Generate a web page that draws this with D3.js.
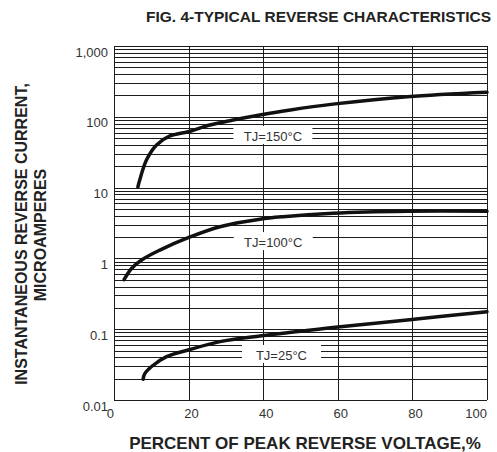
<!DOCTYPE html>
<html>
<head>
<meta charset="utf-8">
<script src="https://cdn.jsdelivr.net/npm/d3@7"></script>
<style>
  body { margin: 0; background: #fff; }
  svg { display: block; font-family: "Liberation Sans", Arial, sans-serif; }
</style>
</head>
<body>
<div id="chart"></div>
<script>
// values
const xTicks = [0, 20, 40, 60, 80, 100];
const yTicks = [0.01, 0.1, 1, 10, 100, 1000];
const yTickLabels = ['0.01', '0.1', '1', '10', '100', '1,000'];

const pct150 = [6.4, 6.9, 8.7, 11.4, 15, 19.9, 25.7, 31.9, 39.1, 47.3, 58.7, 78.6, 100];
const cur150 = [10.2, 12.8, 24.5, 40, 53.6, 61.6, 76.6, 90, 106, 125, 151, 192, 222];

const pct100 = [2.7, 4.7, 7.4, 12.3, 19.9, 28.4, 39.1, 45.3, 58.7, 78.6, 100];
const cur100 = [0.5, 0.72, 0.95, 1.31, 1.96, 2.8, 3.57, 3.88, 4.34, 4.63, 4.63];

const pct25 = [7.8, 8.2, 10, 14.1, 19.9, 28.4, 39.1, 45.3, 58.7, 78.6, 100];
const cur25 = [0.0196, 0.0233, 0.0295, 0.0409, 0.0508, 0.0667, 0.0802, 0.0875, 0.106, 0.135, 0.177];

const curveNames = ['TJ=150°C', 'TJ=100°C', 'TJ=25°C'];
const labelPct = [42.6, 42.7, 44.9];
const labelCur = [53.6, 1.7, 0.0433];

class ReverseChart {

  constructor(_config) {
    this.config = {
      parentElement: _config.parentElement,
      containerWidth: _config.containerWidth || 497,
      containerHeight: _config.containerHeight || 452,
      margin: _config.margin || {top: 46, right: 10, bottom: 52, left: 114}
    };
    this.initVis();
  }

  initVis() {
    let vis = this;
    const m = vis.config.margin;

    vis.width = vis.config.containerWidth - m.left - m.right;
    vis.height = vis.config.containerHeight - m.top - m.bottom;

    vis.svg = d3.select(vis.config.parentElement).append('svg')
      .attr('width', vis.config.containerWidth)
      .attr('height', vis.config.containerHeight);

    vis.chart = vis.svg.append('g')
      .attr('transform', `translate(${m.left},${m.top})`);

    vis.x = d3.scaleLinear().domain([0, 100]).range([0, vis.width]);
    vis.y = d3.scaleLog().domain([0.01, 1000]).range([vis.height, 0]);

    vis.updateVis();
  }

  updateVis() {
    let vis = this;
    const gridColor = '#1c1c1c';

    // horizontal grid, 1..9 in every decade
    vis.chart.append('g').selectAll('line')
      .data(vis.y.ticks())
      .join('line')
        .attr('x1', 0).attr('x2', vis.width)
        .attr('y1', d => Math.round(vis.y(d)) + 0.5)
        .attr('y2', d => Math.round(vis.y(d)) + 0.5)
        .attr('stroke', gridColor)
        .attr('stroke-width', 1);

    // vertical grid
    vis.chart.append('g').selectAll('line')
      .data(xTicks)
      .join('line')
        .attr('x1', d => Math.round(vis.x(d)) + 0.5)
        .attr('x2', d => Math.round(vis.x(d)) + 0.5)
        .attr('y1', 0).attr('y2', vis.height)
        .attr('stroke', gridColor)
        .attr('stroke-width', 1);

    // y tick labels
    vis.chart.append('g').selectAll('text')
      .data(yTicks)
      .join('text')
        .attr('x', -6)
        .attr('y', d => vis.y(d) + 10.5)
        .attr('text-anchor', 'end')
        .attr('font-size', 13)
        .attr('fill', '#333')
        .text((d, i) => yTickLabels[i]);

    // x tick labels
    vis.chart.append('g').selectAll('text')
      .data(xTicks)
      .join('text')
        .attr('x', (d, i) => (i === 0 || i === xTicks.length - 1) ? vis.x(d) : vis.x(d) + 3)
        .attr('y', vis.height + 18)
        .attr('text-anchor', (d, i) => (i === 0 || i === xTicks.length - 1) ? 'end' : 'middle')
        .attr('font-size', 13)
        .attr('fill', '#333')
        .text(d => d);

    // label boxes blank out the grid behind the curve names
    const labels = curveNames.map((name, i) => ({name: name, x: labelPct[i], y: labelCur[i]}));
    vis.chart.append('g').selectAll('rect')
      .data(labels)
      .join('rect')
        .attr('x', d => vis.x(d.x) - 39.5)
        .attr('y', d => vis.y(d.y) - 10)
        .attr('width', 79)
        .attr('height', 18)
        .attr('fill', '#fff');

    vis.chart.append('g').selectAll('text')
      .data(labels)
      .join('text')
        .attr('x', d => vis.x(d.x))
        .attr('y', d => vis.y(d.y) + 5)
        .attr('text-anchor', 'middle')
        .attr('font-size', 13)
        .attr('fill', '#333')
        .text(d => d.name);

    // curves
    const series = [
      d3.zip(pct150, cur150),
      d3.zip(pct100, cur100),
      d3.zip(pct25, cur25)
    ];
    const line = d3.line()
      .x(d => vis.x(d[0]))
      .y(d => vis.y(d[1]))
      .curve(d3.curveCatmullRom.alpha(0.5));

    vis.chart.append('g').selectAll('path')
      .data(series)
      .join('path')
        .attr('d', line)
        .attr('fill', 'none')
        .attr('stroke', '#111')
        .attr('stroke-width', 3.5)
        .attr('stroke-linecap', 'round');

    // titles
    vis.svg.append('text')
      .attr('x', 491)
      .attr('y', 22)
      .attr('text-anchor', 'end')
      .attr('font-size', 15.5)
      .attr('font-weight', 'bold')
      .attr('fill', '#222')
      .text('FIG. 4-TYPICAL REVERSE CHARACTERISTICS');

    vis.svg.append('text')
      .attr('x', 305)
      .attr('y', 449)
      .attr('text-anchor', 'middle')
      .attr('font-size', 17)
      .attr('font-weight', 'bold')
      .attr('fill', '#222')
      .text('PERCENT OF PEAK REVERSE VOLTAGE,%');

    const ytitle = vis.svg.append('g')
      .attr('font-size', 16)
      .attr('font-weight', 'bold')
      .attr('fill', '#222')
      .attr('text-anchor', 'middle');
    ytitle.append('text')
      .attr('transform', 'translate(27,234) rotate(-90)')
      .text('INSTANTANEOUS REVERSE CURRENT,');
    ytitle.append('text')
      .attr('transform', 'translate(46,235) rotate(-90)')
      .text('MICROAMPERES');
  }
}

new ReverseChart({parentElement: '#chart'});
</script>
</body>
</html>
